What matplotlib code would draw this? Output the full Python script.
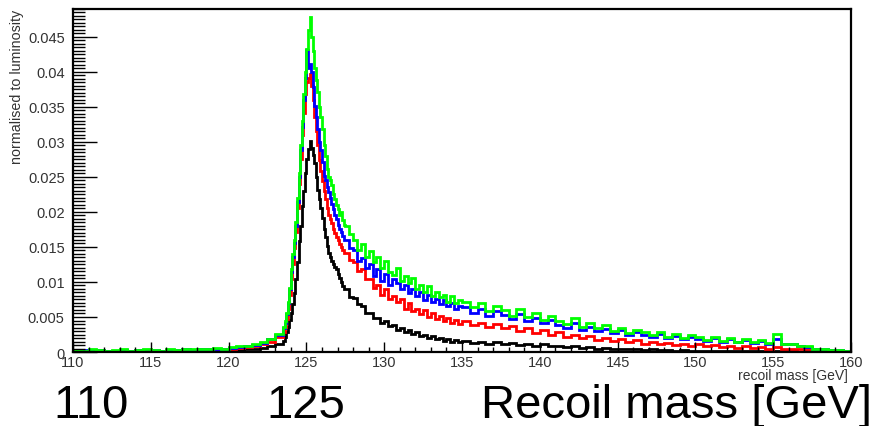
"""
Recoil mass spectrum for four samples, normalised to luminosity.
ROOT-style step histograms with large slide labels underneath.

Output: out.png
"""
import numpy as np
import matplotlib
matplotlib.use('Agg')  # no display
import matplotlib.pyplot as plt
from matplotlib.ticker import MultipleLocator, FuncFormatter

plt.rcParams['font.family'] = ['Liberation Sans', 'DejaVu Sans']

# Bin edges [GeV]: coarse where the spectrum is flat, fine around the peak
edges = np.concatenate([
    np.linspace(110.0, 123.5, 28)[:-1],   # 0.5 GeV
    np.linspace(123.5, 127.5, 41)[:-1],   # 0.1 GeV
    np.linspace(127.5, 135.0, 31)[:-1],   # 0.25 GeV
    np.linspace(135.0, 160.0, 51),        # 0.5 GeV
])

# Bin contents, one list per sample
black = [
    # 110 - 123.5
    0.0001, 0.0001, 0.0001, 0.0001, 0.0001, 0.0001, 0.0001, 0.0001, 0.0001,
    0.0001, 0.0001, 0.0001, 0.0001, 0.0001, 0.0002, 0.0001, 0.0002, 0.0002,
    0.0002, 0.0002, 0.0003, 0.0003, 0.0004, 0.0005, 0.0006, 0.0008, 0.0011,
    # 123.5 - 127.5
    0.0016, 0.0021, 0.0028, 0.0036, 0.0046, 0.0056, 0.0068, 0.0084, 0.0104, 0.0128,
    0.0158, 0.0180, 0.0208, 0.0230, 0.0255, 0.0276, 0.0290, 0.0302, 0.0292, 0.0282,
    0.0270, 0.0250, 0.0232, 0.0218, 0.0205, 0.0192, 0.0176, 0.0164, 0.0152, 0.0142,
    0.0136, 0.0130, 0.0126, 0.0122, 0.0118, 0.0112, 0.0106, 0.0100, 0.0094, 0.0090,
    # 127.5 - 135
    0.0090, 0.0079, 0.0077, 0.0068, 0.0066, 0.0056, 0.0056, 0.0048, 0.0049, 0.0042,
    0.0044, 0.0037, 0.0038, 0.0032, 0.0034, 0.0029, 0.0031, 0.0026, 0.0028, 0.0023,
    0.0025, 0.0020, 0.0023, 0.0018, 0.0020, 0.0016, 0.0019, 0.0015, 0.0017, 0.0014,
    # 135 - 160
    0.0016, 0.0013, 0.0015, 0.0012, 0.0014, 0.0011, 0.0013, 0.0010, 0.0012, 0.0009,
    0.0011, 0.0008, 0.0009, 0.0007, 0.0008, 0.0006, 0.0007, 0.0005, 0.0006, 0.0004,
    0.0005, 0.0004, 0.0004, 0.0003, 0.0004, 0.0003, 0.0003, 0.0002, 0.0003, 0.0002,
    0.0002, 0.0002, 0.0002, 0.0001, 0.0002, 0.0001, 0.0001, 0.0001, 0.0001, 0.0001,
    0.0001, 0.0001, 0.0001, 0.0000, 0.0001, 0.0000, 0.0000, 0.0000, 0.0000, 0.0000,
]

red = [
    0.0001, 0.0002, 0.0001, 0.0002, 0.0001, 0.0002, 0.0002, 0.0001, 0.0002,
    0.0002, 0.0001, 0.0002, 0.0002, 0.0002, 0.0003, 0.0002, 0.0003, 0.0003,
    0.0004, 0.0004, 0.0005, 0.0006, 0.0007, 0.0009, 0.0011, 0.0015, 0.0021,
    0.0028, 0.0036, 0.0047, 0.0062, 0.0082, 0.0104, 0.0126, 0.0148, 0.0172, 0.0205,
    0.0240, 0.0275, 0.0310, 0.0342, 0.0368, 0.0385, 0.0392, 0.0397, 0.0380, 0.0360,
    0.0336, 0.0315, 0.0295, 0.0274, 0.0258, 0.0244, 0.0230, 0.0218, 0.0206, 0.0196,
    0.0190, 0.0184, 0.0176, 0.0170, 0.0164, 0.0160, 0.0154, 0.0150, 0.0146, 0.0142,
    0.0142, 0.0132, 0.0128, 0.0116, 0.0118, 0.0104, 0.0104, 0.0092, 0.0096, 0.0082,
    0.0090, 0.0076, 0.0080, 0.0072, 0.0076, 0.0062, 0.0070, 0.0058, 0.0062, 0.0054,
    0.0060, 0.0050, 0.0055, 0.0047, 0.0052, 0.0044, 0.0049, 0.0042, 0.0046, 0.0040,
    0.0044, 0.0038, 0.0042, 0.0036, 0.0040, 0.0034, 0.0037, 0.0030, 0.0034, 0.0027,
    0.0031, 0.0024, 0.0028, 0.0022, 0.0025, 0.0020, 0.0023, 0.0017, 0.0020, 0.0016,
    0.0018, 0.0014, 0.0017, 0.0012, 0.0015, 0.0011, 0.0013, 0.0010, 0.0012, 0.0009,
    0.0011, 0.0008, 0.0010, 0.0007, 0.0009, 0.0006, 0.0008, 0.0006, 0.0007, 0.0005,
    0.0007, 0.0005, 0.0005, 0.0004, 0.0004, 0.0003, 0.0003, 0.0002, 0.0002, 0.0001,
]

blue = [
    0.0002, 0.0003, 0.0002, 0.0003, 0.0002, 0.0002, 0.0003, 0.0002, 0.0003,
    0.0002, 0.0003, 0.0002, 0.0003, 0.0003, 0.0004, 0.0003, 0.0004, 0.0004,
    0.0005, 0.0005, 0.0006, 0.0007, 0.0009, 0.0010, 0.0013, 0.0018, 0.0025,
    0.0034, 0.0042, 0.0054, 0.0070, 0.0090, 0.0114, 0.0136, 0.0156, 0.0180, 0.0214,
    0.0250, 0.0288, 0.0322, 0.0360, 0.0392, 0.0432, 0.0405, 0.0412, 0.0400, 0.0378,
    0.0352, 0.0335, 0.0318, 0.0300, 0.0288, 0.0272, 0.0252, 0.0246, 0.0236, 0.0228,
    0.0220, 0.0212, 0.0204, 0.0196, 0.0190, 0.0182, 0.0176, 0.0172, 0.0166, 0.0160,
    0.0160, 0.0148, 0.0146, 0.0130, 0.0134, 0.0120, 0.0126, 0.0108, 0.0118, 0.0102,
    0.0112, 0.0096, 0.0104, 0.0098, 0.0090, 0.0096, 0.0084, 0.0090, 0.0080, 0.0086,
    0.0074, 0.0082, 0.0072, 0.0076, 0.0068, 0.0074, 0.0066, 0.0070, 0.0062, 0.0066,
    0.0064, 0.0056, 0.0061, 0.0052, 0.0058, 0.0053, 0.0047, 0.0054, 0.0044, 0.0049,
    0.0041, 0.0046, 0.0038, 0.0035, 0.0042, 0.0031, 0.0036, 0.0030, 0.0033, 0.0027,
    0.0031, 0.0024, 0.0028, 0.0025, 0.0021, 0.0026, 0.0020, 0.0023, 0.0018, 0.0022,
    0.0019, 0.0016, 0.0020, 0.0015, 0.0018, 0.0014, 0.0017, 0.0013, 0.0016, 0.0012,
    0.0018, 0.0011, 0.0011, 0.0008, 0.0007, 0.0005, 0.0004, 0.0003, 0.0003, 0.0002,
]

green = [
    0.0003, 0.0002, 0.0004, 0.0003, 0.0002, 0.0003, 0.0004, 0.0002, 0.0003,
    0.0004, 0.0003, 0.0002, 0.0004, 0.0003, 0.0004, 0.0005, 0.0004, 0.0005,
    0.0006, 0.0005, 0.0007, 0.0008, 0.0009, 0.0011, 0.0014, 0.0019, 0.0026,
    0.0036, 0.0044, 0.0056, 0.0072, 0.0092, 0.0118, 0.0140, 0.0160, 0.0185, 0.0220,
    0.0255, 0.0295, 0.0330, 0.0368, 0.0400, 0.0433, 0.0460, 0.0478, 0.0450, 0.0430,
    0.0405, 0.0388, 0.0372, 0.0350, 0.0335, 0.0318, 0.0296, 0.0280, 0.0262, 0.0250,
    0.0246, 0.0238, 0.0226, 0.0218, 0.0210, 0.0204, 0.0196, 0.0200, 0.0188, 0.0182,
    0.0180, 0.0168, 0.0160, 0.0146, 0.0154, 0.0136, 0.0144, 0.0128, 0.0136, 0.0120,
    0.0130, 0.0114, 0.0110, 0.0120, 0.0102, 0.0108, 0.0098, 0.0106, 0.0090, 0.0096,
    0.0086, 0.0094, 0.0080, 0.0086, 0.0078, 0.0082, 0.0072, 0.0080, 0.0070, 0.0074,
    0.0072, 0.0064, 0.0070, 0.0058, 0.0066, 0.0060, 0.0052, 0.0062, 0.0050, 0.0056,
    0.0046, 0.0052, 0.0044, 0.0040, 0.0048, 0.0036, 0.0042, 0.0034, 0.0038, 0.0030,
    0.0035, 0.0027, 0.0031, 0.0028, 0.0024, 0.0029, 0.0022, 0.0026, 0.0020, 0.0024,
    0.0021, 0.0017, 0.0022, 0.0016, 0.0020, 0.0015, 0.0018, 0.0014, 0.0017, 0.0013,
    0.0026, 0.0012, 0.0012, 0.0009, 0.0008, 0.0005, 0.0005, 0.0003, 0.0003, 0.0002,
]

series = [(black, '#000000'), (red, '#ff0000'), (blue, '#0000ff'), (green, '#00ff00')]

# Big slide labels under the plot
big_labels = ['110', '125', 'Recoil mass [GeV]']

fig = plt.figure(figsize=(8.74, 4.27), dpi=100)
ax = fig.add_axes([0.0835, 0.1733, 0.8902, 0.8033])

# Draw histograms, green last so it sits on top
for values, color in series:
    ax.stairs(values, edges, color=color, linewidth=2.0)

ax.set_xlim(110, 160)
ax.set_ylim(0, 0.049)

# ROOT-like axes: ticks inside, only on left and bottom
fmt = FuncFormatter(lambda v, pos: '%g' % round(v, 4))
ax.xaxis.set_major_locator(MultipleLocator(5))
ax.xaxis.set_minor_locator(MultipleLocator(1))
ax.yaxis.set_major_locator(MultipleLocator(0.005))
ax.yaxis.set_minor_locator(MultipleLocator(0.0005))
ax.xaxis.set_major_formatter(fmt)
ax.yaxis.set_major_formatter(fmt)

ax.tick_params(axis='both', which='both', direction='in', width=1.0,
               labelsize=10.5, labelcolor='#333333')
ax.tick_params(axis='y', which='major', length=17, pad=6)
ax.tick_params(axis='y', which='minor', length=8.5)
ax.tick_params(axis='x', which='major', length=7, pad=2)
ax.tick_params(axis='x', which='minor', length=3.6)

for side in ['left', 'bottom', 'top', 'right']:
    ax.spines[side].set_linewidth(1.6)

# Axis titles, placed the way ROOT does it
fig.text(0.970, 0.119, 'recoil mass [GeV]', ha='right', va='center',
         fontsize=10, color='#333333')
fig.text(0.0195, 0.976, 'normalised to luminosity', ha='center', va='top',
         rotation=90, fontsize=10.3, color='#333333')

fig.text(0.104, 0.021, big_labels[0], ha='center', va='baseline', fontsize=34)
fig.text(0.350, 0.021, big_labels[1], ha='center', va='baseline', fontsize=34)
fig.text(0.998, 0.021, big_labels[2], ha='right', va='baseline', fontsize=34)

fig.savefig('out.png', dpi=100)
